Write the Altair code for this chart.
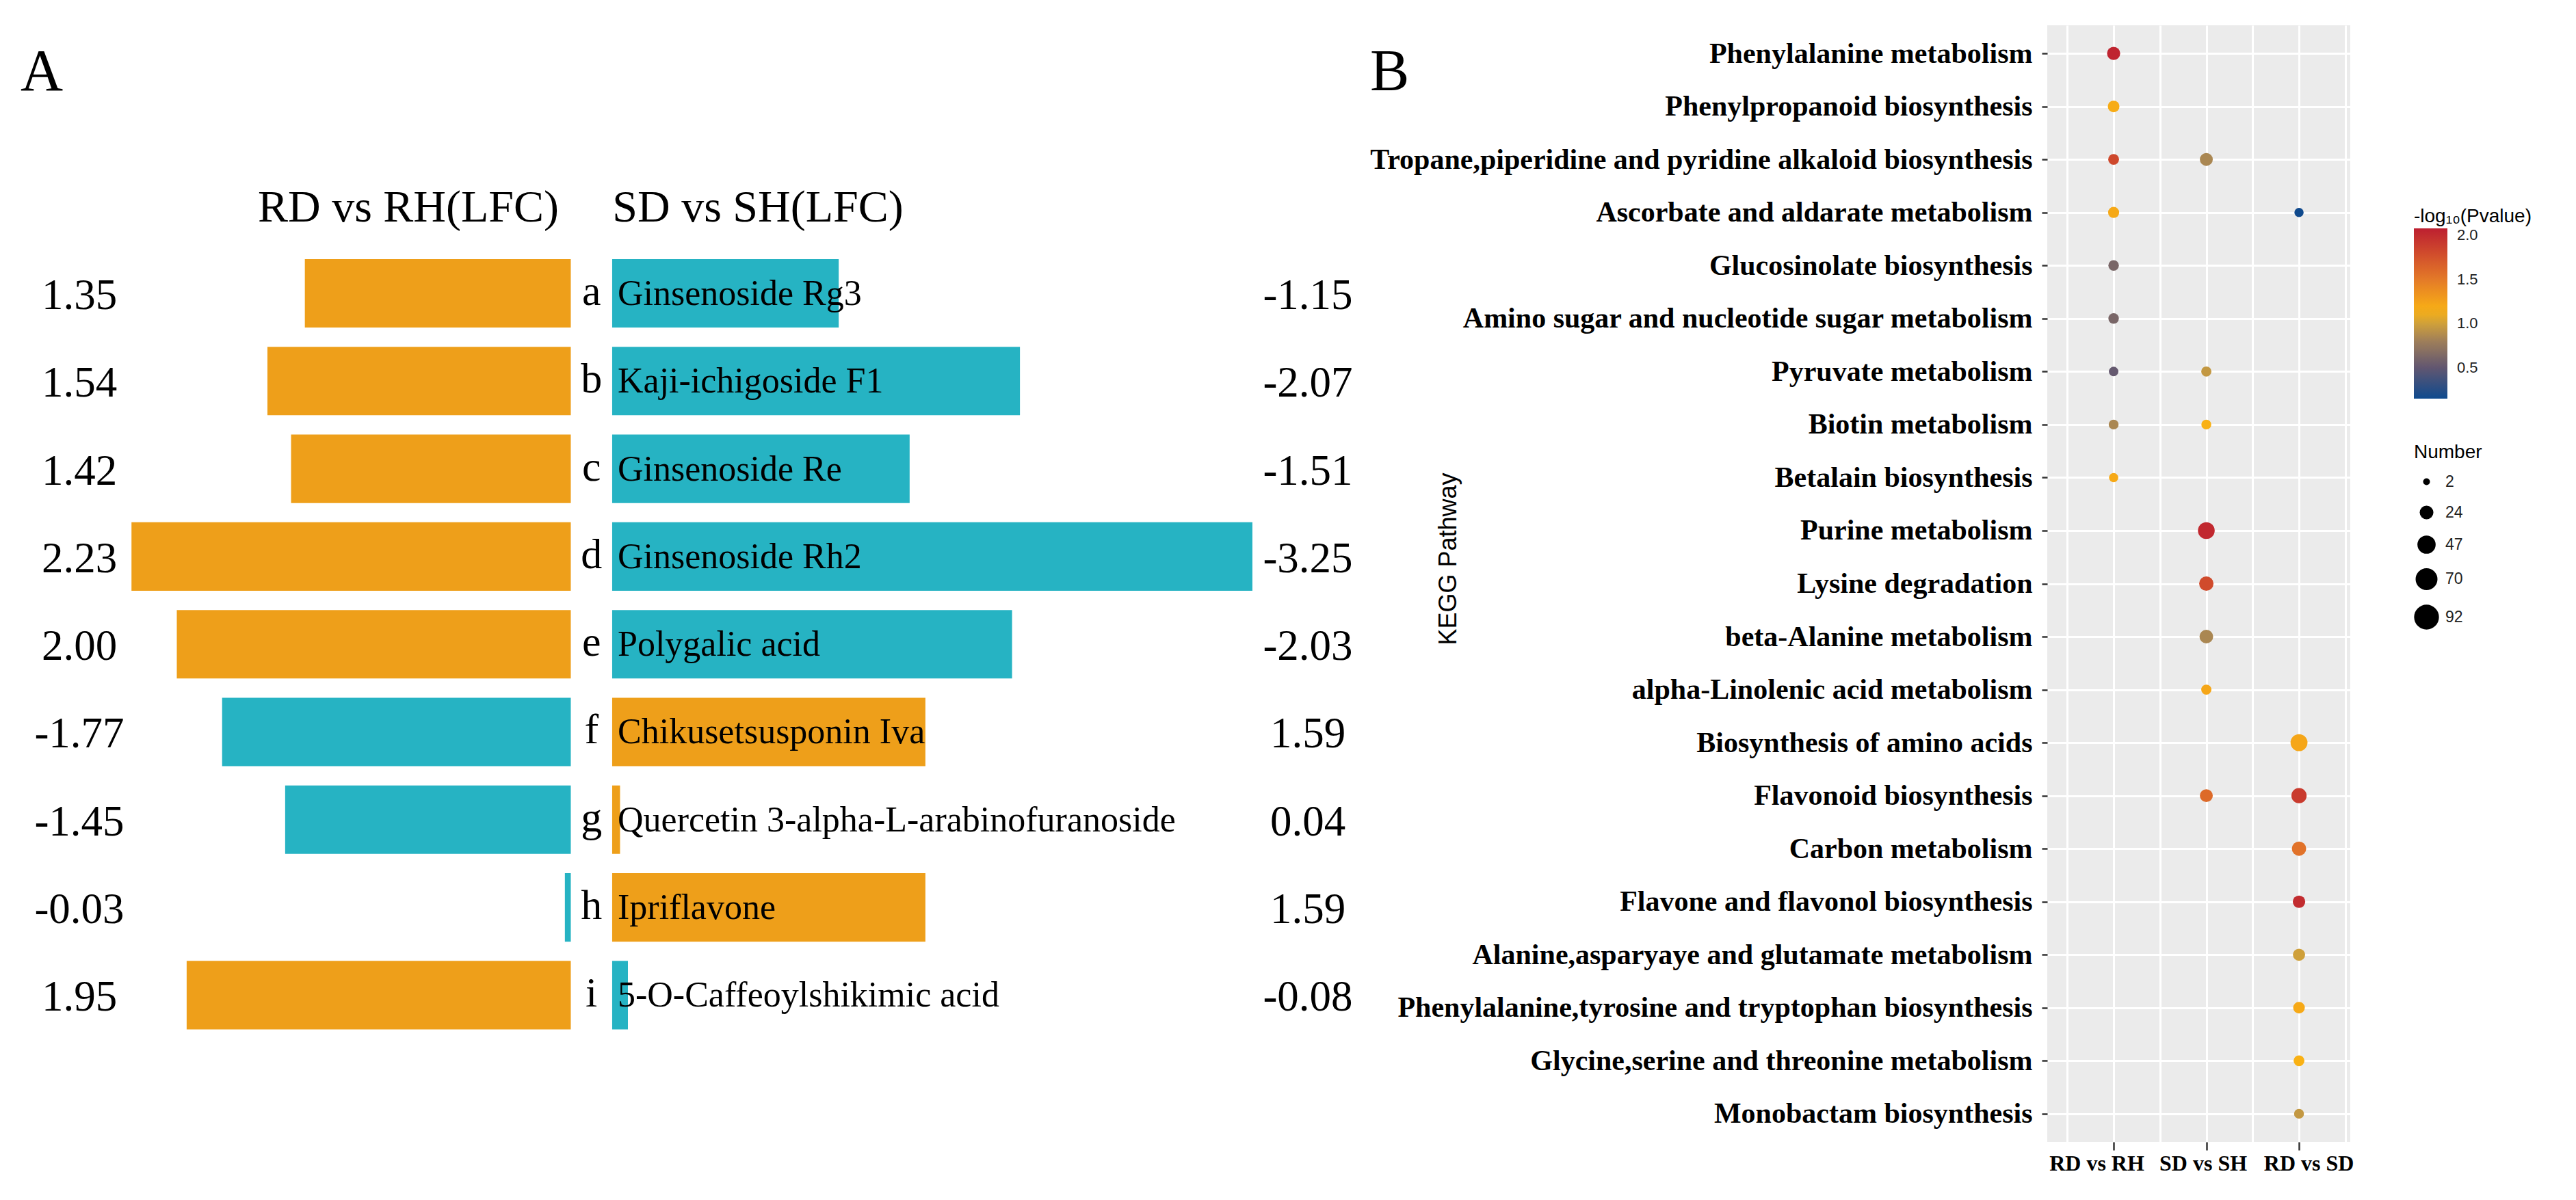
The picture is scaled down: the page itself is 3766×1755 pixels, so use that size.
import altair as alt
import pandas as pd

# ---------------- Panel A data ----------------
letters = ["a", "b", "c", "d", "e", "f", "g", "h", "i"]
compounds = [
    "Ginsenoside Rg3",
    "Kaji-ichigoside F1",
    "Ginsenoside Re",
    "Ginsenoside Rh2",
    "Polygalic acid",
    "Chikusetsusponin Iva",
    "Quercetin 3-alpha-L-arabinofuranoside",
    "Ipriflavone",
    "5-O-Caffeoylshikimic acid",
]
rd_vs_rh = [1.35, 1.54, 1.42, 2.23, 2.00, -1.77, -1.45, -0.03, 1.95]
sd_vs_sh = [-1.15, -2.07, -1.51, -3.25, -2.03, 1.59, 0.04, 1.59, -0.08]
headers = ["RD vs RH(LFC)", "SD vs SH(LFC)"]

# ---------------- Panel B data ----------------
pathways = [
    "Phenylalanine metabolism",
    "Phenylpropanoid biosynthesis",
    "Tropane,piperidine and pyridine alkaloid biosynthesis",
    "Ascorbate and aldarate metabolism",
    "Glucosinolate biosynthesis",
    "Amino sugar and nucleotide sugar metabolism",
    "Pyruvate metabolism",
    "Biotin metabolism",
    "Betalain biosynthesis",
    "Purine metabolism",
    "Lysine degradation",
    "beta-Alanine metabolism",
    "alpha-Linolenic acid metabolism",
    "Biosynthesis of amino acids",
    "Flavonoid biosynthesis",
    "Carbon metabolism",
    "Flavone and flavonol biosynthesis",
    "Alanine,asparyaye and glutamate metabolism",
    "Phenylalanine,tyrosine and tryptophan biosynthesis",
    "Glycine,serine and threonine metabolism",
    "Monobactam biosynthesis",
]
groups = ["RD vs RH", "SD vs SH", "RD vs SD"]

dot_pathway = [
    pathways[0], pathways[1], pathways[2], pathways[2], pathways[3], pathways[3],
    pathways[4], pathways[5], pathways[6], pathways[6], pathways[7], pathways[7],
    pathways[8], pathways[9], pathways[10], pathways[11], pathways[12], pathways[13],
    pathways[14], pathways[14], pathways[15], pathways[16], pathways[17], pathways[18],
    pathways[19], pathways[20],
]
dot_group = [
    "RD vs RH", "RD vs RH", "RD vs RH", "SD vs SH", "RD vs RH", "RD vs SD",
    "RD vs RH", "RD vs RH", "RD vs RH", "SD vs SH", "RD vs RH", "SD vs SH",
    "RD vs RH", "SD vs SH", "SD vs SH", "SD vs SH", "SD vs SH", "RD vs SD",
    "SD vs SH", "RD vs SD", "RD vs SD", "RD vs SD", "RD vs SD", "RD vs SD",
    "RD vs SD", "RD vs SD",
]
dot_logp = [
    2.05, 1.18, 1.82, 0.85, 1.20, 0.16,
    0.62, 0.62, 0.52, 0.95, 0.85, 1.15,
    1.20, 2.02, 1.80, 0.85, 1.22, 1.22,
    1.60, 1.90, 1.55, 2.00, 1.00, 1.20,
    1.15, 0.95,
]
dot_number = [
    22, 16, 13, 21, 14, 8,
    12, 12, 9, 11, 10, 10,
    8, 39, 27, 24, 11, 40,
    21, 31, 27, 19, 18, 16,
    13, 10,
]
number_breaks = [2, 24, 47, 70, 92]

# ---------------- Panel A ----------------
ORANGE = "#EE9F1A"
TEAL = "#26B3C3"
half_gap = 0.105  # gap (in LFC units) between the two bar columns

dfa = pd.DataFrame({"letter": letters, "compound": compounds, "rd": rd_vs_rh, "sd": sd_vs_sh})
dfa["row"] = range(len(letters))
dfa["rd_label"] = [f"{v:.2f}" for v in rd_vs_rh]
dfa["sd_label"] = [f"{v:.2f}" for v in sd_vs_sh]

bar_rows = []
for _, r in dfa.iterrows():
    bar_rows.append(dict(row=r["row"], x=-(half_gap + abs(r["rd"])), x2=-half_gap,
                         sign="pos" if r["rd"] > 0 else "neg"))
    bar_rows.append(dict(row=r["row"], x=half_gap, x2=half_gap + abs(r["sd"]),
                         sign="pos" if r["sd"] > 0 else "neg"))
bars_df = pd.DataFrame(bar_rows)
bars_df["y"] = bars_df["row"] - 0.39
bars_df["y2"] = bars_df["row"] + 0.39

WA, HA = 1990, 1633
xs = alt.Scale(domain=[-2.9747, 3.935], nice=False, zero=False)
ys = alt.Scale(domain=[-3.0553, 9.6727], nice=False, zero=False, reverse=True)
SERIF = "Liberation Serif"

bars = alt.Chart(bars_df).mark_rect().encode(
    x=alt.X("x:Q", scale=xs, axis=None),
    x2="x2:Q",
    y=alt.Y("y:Q", scale=ys, axis=None),
    y2="y2:Q",
    color=alt.Color("sign:N", scale=alt.Scale(domain=["pos", "neg"], range=[ORANGE, TEAL]), legend=None),
)

base_a = alt.Chart(dfa)
letter_text = base_a.mark_text(font=SERIF, fontSize=62, align="center", baseline="alphabetic", dy=17, color="black").encode(
    x=alt.datum(0, scale=xs), y=alt.Y("row:Q", scale=ys, axis=None), text="letter:N")
name_text = base_a.mark_text(font=SERIF, fontSize=52, align="left", baseline="alphabetic", dy=17, color="black").encode(
    x=alt.value(895), y=alt.Y("row:Q", scale=ys, axis=None), text="compound:N")
left_vals = base_a.mark_text(font=SERIF, fontSize=63, align="center", baseline="alphabetic", dy=23, color="black").encode(
    x=alt.value(108), y=alt.Y("row:Q", scale=ys, axis=None), text="rd_label:N")
right_vals = base_a.mark_text(font=SERIF, fontSize=63, align="center", baseline="alphabetic", dy=23, color="black").encode(
    x=alt.value(1904), y=alt.Y("row:Q", scale=ys, axis=None), text="sd_label:N")

hdr_df = pd.DataFrame({"h": headers})
hdr_left = alt.Chart(hdr_df).transform_filter(alt.datum.h == headers[0]).mark_text(
    font=SERIF, fontSize=66, align="center", baseline="alphabetic", color="black").encode(
    x=alt.value(589), y=alt.value(287), text="h:N")
hdr_right = alt.Chart(hdr_df).transform_filter(alt.datum.h == headers[1]).mark_text(
    font=SERIF, fontSize=66, align="center", baseline="alphabetic", color="black").encode(
    x=alt.value(1100), y=alt.value(287), text="h:N")

panel_df = pd.DataFrame({"p": ["A", "B"]})
tag_a = alt.Chart(panel_df).transform_filter(alt.datum.p == "A").mark_text(
    font=SERIF, fontSize=86, align="left", baseline="alphabetic", color="black").encode(
    x=alt.value(22), y=alt.value(95), text="p:N")
tag_b = alt.Chart(panel_df).transform_filter(alt.datum.p == "B").mark_text(
    font=SERIF, fontSize=86, align="left", baseline="alphabetic", color="black").encode(
    x=alt.value(1995), y=alt.value(95), text="p:N")

panel_a = alt.layer(bars, letter_text, name_text, left_vals, right_vals,
                    hdr_left, hdr_right, tag_a, tag_b).properties(
    width=WA, height=HA, view=alt.ViewBackground(fill="white", stroke=None))

# ---------------- Panel B ----------------
dots = pd.DataFrame({"pathway": dot_pathway, "group": dot_group, "logp": dot_logp, "number": dot_number})
gmap = {g: i + 1 for i, g in enumerate(groups)}
dots["gx"] = dots["group"].map(gmap)

label_expr = " : ".join(f"datum.value == {i + 1} ? '{g}'" for i, g in enumerate(groups)) + " : ''"

color_domain = [0.15, 0.5, 0.8, 1.0, 1.15, 1.5, 2.08]
color_range = ["#0E4A8E", "#615670", "#9E7E5A", "#CFA03A", "#F9B114", "#E47A28", "#BD1F30"]

x_label_offset = {
    "condition": [
        {"test": "datum.value == 1", "value": -25},
        {"test": "datum.value == 3", "value": 14},
    ],
    "value": -5,
}

panel_b = alt.Chart(dots).mark_circle(opacity=1).encode(
    x=alt.X("gx:Q",
            scale=alt.Scale(domain=[0.284, 3.553], nice=False, zero=False),
            axis=alt.Axis(values=[0.5, 1, 1.5, 2, 2.5, 3, 3.5], labelExpr=label_expr, title=None,
                          grid=True, gridColor="white", gridWidth=3, domain=False,
                          tickSize=12, tickWidth=2.5, tickColor="#333333",
                          tickOpacity={"condition": {"test": "datum.value % 1 != 0", "value": 0}, "value": 1},
                          labelFont=SERIF, labelFontWeight="bold", labelFontSize=32, labelColor="black",
                          labelPadding=4, labelOverlap=False, labelFlush=False,
                          labelOffset=x_label_offset)),
    y=alt.Y("pathway:N", sort=pathways,
            scale=alt.Scale(padding=0.53),
            axis=alt.Axis(grid=True, gridColor="white", gridWidth=3, domain=False,
                          tickSize=8, tickWidth=2.5, tickColor="#333333",
                          labelFont=SERIF, labelFontWeight="bold", labelFontSize=42, labelColor="black",
                          labelPadding=14, labelLimit=3000,
                          title="KEGG Pathway", titleFont="Liberation Sans", titleFontSize=36,
                          titleFontWeight="normal", titleColor="black", titleAngle=270,
                          titleX=-876, titleY=780, titleAlign="center", titleBaseline="middle")),
    color=alt.Color("logp:Q",
                    scale=alt.Scale(domain=color_domain, range=color_range, interpolate="rgb"),
                    legend=alt.Legend(title="-log\u2081\u2080(Pvalue)", orient="none", legendX=536, legendY=266,
                                      direction="vertical", values=[0.5, 1.0, 1.5, 2.0], format=".1f",
                                      gradientLength=249, gradientThickness=49,
                                      titleFont="Liberation Sans", titleFontSize=28, titleFontWeight="normal",
                                      titleColor="black", titlePadding=3,
                                      labelFont="Liberation Sans", labelFontSize=22, labelColor="#222222",
                                      labelOffset=14)),
    size=alt.Size("number:Q",
                  scale=alt.Scale(domain=[2, 92], range=[100, 1320]),
                  legend=alt.Legend(title="Number", orient="none", legendX=536, legendY=611,
                                    values=number_breaks,
                                    symbolFillColor="black", symbolStrokeWidth=0, symbolOpacity=1,
                                    symbolType="circle",
                                    titleFont="Liberation Sans", titleFontSize=28, titleFontWeight="normal",
                                    titleColor="black", titlePadding=17,
                                    labelFont="Liberation Sans", labelFontSize=23, labelColor="#222222",
                                    labelOffset=9, rowPadding=21)),
).properties(width=443, height=1633, view=alt.ViewBackground(fill="#EBEBEB", stroke=None))

chart = alt.hconcat(panel_a, panel_b, spacing=995, bounds="flush").resolve_scale(
    color="independent", size="independent"
).properties(
    padding={"left": 0, "top": 29, "right": 0, "bottom": 0}
).configure_view(stroke=None)

chart.save("out.html", embed_options={"renderer": "svg", "actions": False})
